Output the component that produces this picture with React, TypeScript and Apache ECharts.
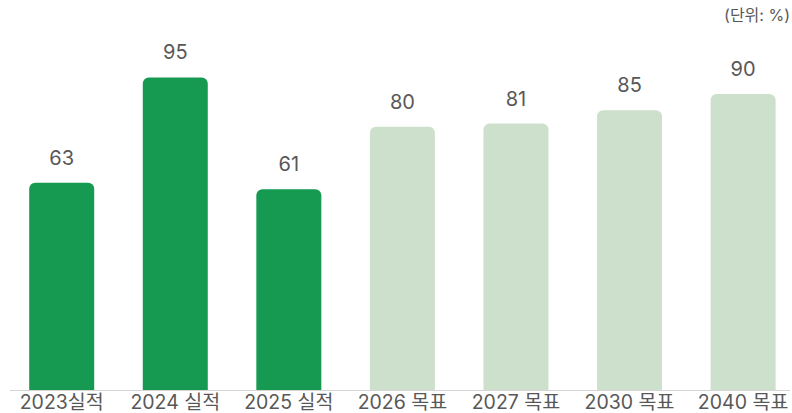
import React, { useEffect, useRef } from "react";
import * as echarts from "echarts";

const categories = ["2023실적", "2024 실적", "2025 실적", "2026 목표", "2027 목표", "2030 목표", "2040 목표"];
const values = [63, 95, 61, 80, 81, 85, 90];
const kinds = ["actual", "actual", "actual", "target", "target", "target", "target"];
const unitLabel = "(단위: %)";

const colorFor: Record<string, string> = { actual: "#169950", target: "#cde0cb" };
const FONT = "Inter, 'Noto Sans CJK KR', sans-serif";
const TEXT = "#585858";

export default function App() {
  const ref = useRef<HTMLDivElement>(null);
  useEffect(() => {
    if (!ref.current) return;
    const chart = echarts.init(ref.current, undefined, { renderer: "svg" });
    chart.setOption({
      animation: false,
      textStyle: { fontFamily: FONT },
      grid: { left: 61.7, right: 792 - 743.1, top: 61, bottom: 23, containLabel: false },
      xAxis: {
        type: "category",
        data: categories,
        boundaryGap: false,
        axisLine: { show: false },
        axisTick: { show: false },
        axisLabel: { interval: 0, fontSize: 19.5, lineHeight: 18, color: TEXT, margin: 3, fontFamily: FONT },
      },
      yAxis: {
        type: "value",
        min: 0,
        max: 100,
        show: false,
        splitLine: { show: false },
      },
      graphic: [
        {
          type: "line",
          shape: { x1: 10, y1: 390.5, x2: 790, y2: 390.5 },
          style: { stroke: "#d4d4d4", lineWidth: 1 },
          z: 10,
        },
        {
          type: "text",
          x: 790,
          y: 15,
          style: { text: unitLabel, fontSize: 16, fill: TEXT, align: "right", verticalAlign: "middle", fontFamily: FONT },
        },
      ],
      series: [
        {
          type: "bar",
          barWidth: 65,
          data: values.map((v, i) => ({
            value: v,
            itemStyle: { color: colorFor[kinds[i]], borderRadius: [6, 6, 0, 0] },
          })),
          label: {
            show: true,
            position: "top",
            distance: 15,
            fontSize: 20,
            color: TEXT,
            fontFamily: FONT,
          },
        },
      ],
    });
    return () => chart.dispose();
  }, []);
  return <div ref={ref} style={{ position: "absolute", left: 0, top: 0, width: 792, height: 413 }} />;
}
